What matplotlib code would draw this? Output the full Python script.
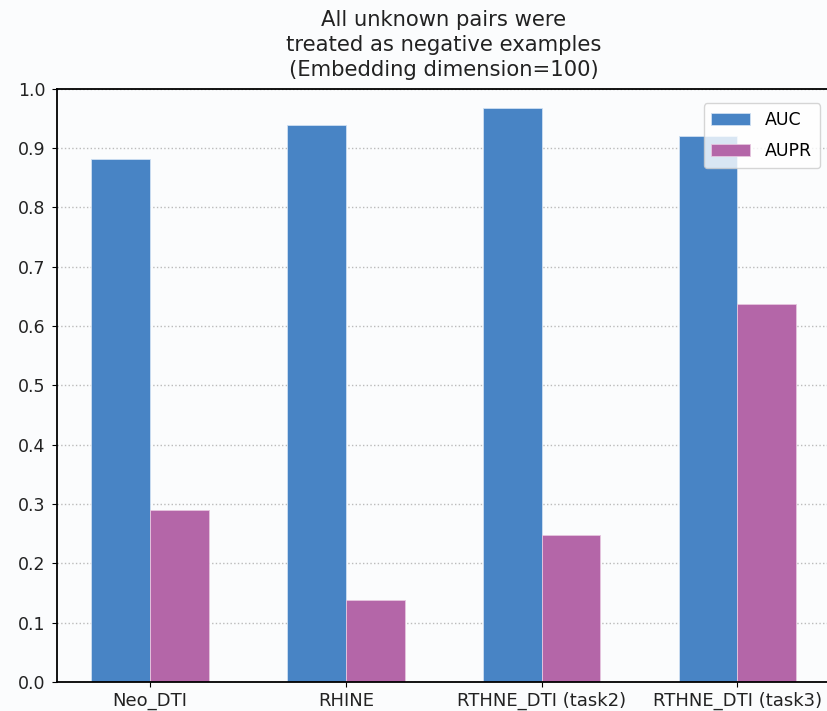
import numpy as np
import matplotlib
matplotlib.use('Agg')
import matplotlib.pyplot as plt

methods = ['Neo_DTI', 'RHINE', 'RTHNE_DTI (task2)', 'RTHNE_DTI (task3)']
auc = [0.882, 0.939, 0.968, 0.921]
aupr = [0.289, 0.138, 0.248, 0.637]

x = np.arange(len(methods))
width = 0.3

fig = plt.figure(figsize=(8.27, 7.11), dpi=100)
fig.patch.set_facecolor('#fbfcfd')
ax = fig.add_axes([0.069, 0.041, 0.935, 0.834])
ax.set_facecolor('#fbfcfd')

ax.bar(x - width/2, auc, width, color='#4884c5', edgecolor='#cfe0f2', linewidth=0.6, label='AUC', zorder=2)
ax.bar(x + width/2, aupr, width, color='#b466a8', edgecolor='#e6c6df', linewidth=0.6, label='AUPR', zorder=2)

ax.set_ylim(0, 1.0)
ax.set_xlim(-0.475, 3.475)
ax.set_yticks(np.arange(0, 1.01, 0.1))
ax.set_yticklabels(['%.1f' % v for v in np.arange(0, 1.01, 0.1)], fontsize=12.5, color='#222222')
ax.set_xticks(x)
ax.set_xticklabels(methods, fontsize=13, color='#222222')
ax.tick_params(axis='y', pad=5)
ax.yaxis.grid(True, linestyle=':', color='#bbbbbb', linewidth=1.0, zorder=0)
ax.spines['left'].set_linewidth(1.3)
ax.spines['bottom'].set_linewidth(1.3)
ax.spines['top'].set_linewidth(1.3)
ax.spines['right'].set_visible(False)

ax.set_title('All unknown pairs were\ntreated as negative examples\n(Embedding dimension=100)',
             fontsize=15.2, color='#222222', pad=9, linespacing=1.33)
ax.legend(loc='upper right', fontsize=12.5, framealpha=0.8, borderpad=0.45,
          handlelength=2.2, handletextpad=0.9, labelspacing=0.75,
          bbox_to_anchor=(0.998, 0.99))

plt.savefig('out.png', dpi=100, facecolor=fig.get_facecolor())
